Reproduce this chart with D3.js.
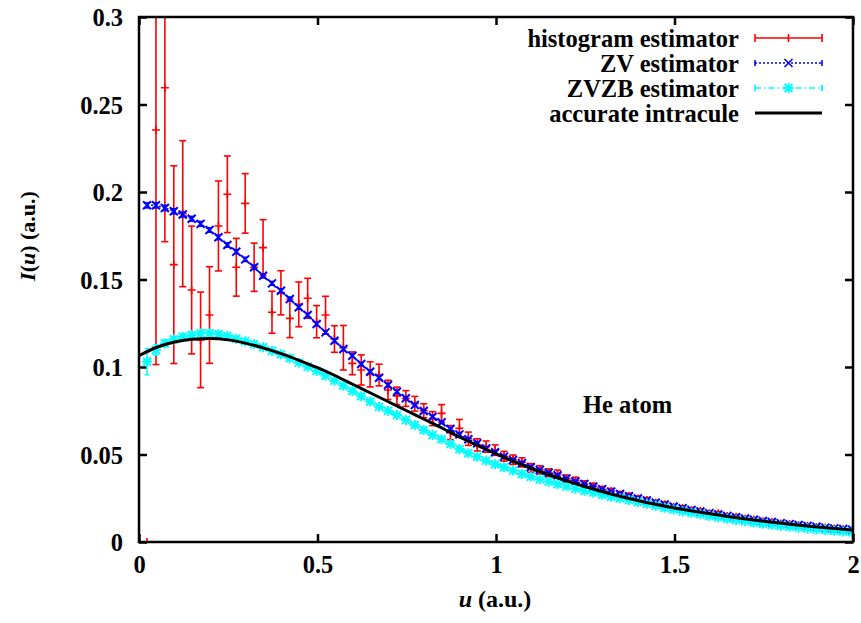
<!DOCTYPE html>
<html>
<head>
<meta charset="utf-8">
<script src="https://cdn.jsdelivr.net/npm/d3@7"></script>
<style>
  body { margin: 0; background: #fff; }
  text { font-family: "Liberation Serif", "Times New Roman", serif; font-weight: bold; }
</style>
</head>
<body>
<svg id="chart" width="861" height="623"></svg>
<script>
// bin centres (a.u.)
const uBins = [
  0.0225, 0.0475, 0.0725, 0.0975, 0.1225, 0.1475, 0.1725, 0.1975, 0.2225, 0.2475,
  0.2725, 0.2975, 0.3225, 0.3475, 0.3725, 0.3975, 0.4225, 0.4475, 0.4725, 0.4975,
  0.5225, 0.5475, 0.5725, 0.5975, 0.6225, 0.6475, 0.6725, 0.6975, 0.7225, 0.7475,
  0.7725, 0.7975, 0.8225, 0.8475, 0.8725, 0.8975, 0.9225, 0.9475, 0.9725, 0.9975,
  1.0225, 1.0475, 1.0725, 1.0975, 1.1225, 1.1475, 1.1725, 1.1975, 1.2225, 1.2475,
  1.2725, 1.2975, 1.3225, 1.3475, 1.3725, 1.3975, 1.4225, 1.4475, 1.4725, 1.4975,
  1.5225, 1.5475, 1.5725, 1.5975, 1.6225, 1.6475, 1.6725, 1.6975, 1.7225, 1.7475,
  1.7725, 1.7975, 1.8225, 1.8475, 1.8725, 1.8975, 1.9225, 1.9475, 1.9725, 1.9975
];

const histValues = [
  0.0, 0.2354, 0.2596, 0.1585, 0.1876, 0.1440, 0.1155, 0.1297, 0.1806, 0.1987,
  0.1570, 0.1935, 0.1570, 0.1682, 0.1313, 0.1424, 0.1278, 0.1358, 0.1393, 0.1259,
  0.1297, 0.1160, 0.1110, 0.1021, 0.0983, 0.0958, 0.0954, 0.0869, 0.0835, 0.0820,
  0.0790, 0.0750, 0.0705, 0.0735, 0.0625, 0.0650, 0.0590, 0.0555, 0.0545, 0.0525,
  0.0490, 0.0470, 0.0455, 0.0423, 0.0412, 0.0395, 0.0389, 0.0362, 0.0350, 0.0330,
  0.0318, 0.0300, 0.0290, 0.0272, 0.0263, 0.0248, 0.0240, 0.0224, 0.0216, 0.0200,
  0.0195, 0.0183, 0.0178, 0.0165, 0.0164, 0.0148, 0.0145, 0.0133, 0.0128, 0.0119,
  0.0116, 0.0106, 0.0103, 0.0096, 0.0093, 0.0086, 0.0082, 0.0077, 0.0075, 0.0069
];
const histErrors = [
  0.0, 0.134, 0.088, 0.0565, 0.0417, 0.0365, 0.0273, 0.0276, 0.0257, 0.0219,
  0.0165, 0.0170, 0.0138, 0.0160, 0.0120, 0.0126, 0.0110, 0.0128, 0.0114, 0.0092,
  0.0107, 0.0076, 0.0127, 0.0065, 0.0086, 0.0072, 0.0062, 0.0055, 0.0050, 0.0045,
  0.0042, 0.0040, 0.0040, 0.0050, 0.0040, 0.0050, 0.0038, 0.0035, 0.0032, 0.0030,
  0.0028, 0.0027, 0.0026, 0.0025, 0.0024, 0.0023, 0.0022, 0.0021, 0.0020, 0.0019,
  0.0018, 0.0017, 0.0016, 0.0016, 0.0015, 0.0015, 0.0014, 0.0014, 0.0013, 0.0013,
  0.0012, 0.0012, 0.0011, 0.0011, 0.0010, 0.0010, 0.0010, 0.0009, 0.0009, 0.0009,
  0.0008, 0.0008, 0.0008, 0.0007, 0.0007, 0.0007, 0.0007, 0.0006, 0.0006, 0.0006
];

const zvValues = [
  0.1924, 0.1924, 0.1909, 0.1890, 0.1871, 0.1847, 0.1818, 0.1783, 0.1741, 0.1697,
  0.1659, 0.1615, 0.1570, 0.1521, 0.1478, 0.1436, 0.1389, 0.1341, 0.1297, 0.1246,
  0.1198, 0.1150, 0.1103, 0.1064, 0.1017, 0.0973, 0.0939, 0.0897, 0.0859, 0.0821,
  0.0783, 0.0749, 0.0716, 0.0684, 0.0646, 0.0615, 0.0587, 0.0564, 0.0535, 0.0513,
  0.0488, 0.0469, 0.0450, 0.0427, 0.0411, 0.0396, 0.0381, 0.0362, 0.0346, 0.0331,
  0.0316, 0.0302, 0.0288, 0.0274, 0.0261, 0.0249, 0.0237, 0.0225, 0.0214, 0.0203,
  0.0193, 0.0183, 0.0174, 0.0165, 0.0157, 0.0149, 0.0141, 0.0134, 0.0127, 0.0120,
  0.0114, 0.0108, 0.0102, 0.0097, 0.0092, 0.0087, 0.0082, 0.0078, 0.0074, 0.0070
];
const zvErrors = [
  0.0015, 0.0015, 0.0015, 0.0015, 0.0014, 0.0014, 0.0014, 0.0013, 0.0013, 0.0013,
  0.0012, 0.0012, 0.0012, 0.0012, 0.0011, 0.0011, 0.0011, 0.0011, 0.0010, 0.0010,
  0.0010, 0.0010, 0.0010, 0.0009, 0.0009, 0.0009, 0.0009, 0.0009, 0.0008, 0.0008,
  0.0008, 0.0008, 0.0008, 0.0008, 0.0007, 0.0007, 0.0007, 0.0007, 0.0007, 0.0007,
  0.0006, 0.0006, 0.0006, 0.0006, 0.0006, 0.0006, 0.0006, 0.0006, 0.0005, 0.0005,
  0.0005, 0.0005, 0.0005, 0.0005, 0.0005, 0.0005, 0.0005, 0.0005, 0.0004, 0.0004,
  0.0004, 0.0004, 0.0004, 0.0004, 0.0004, 0.0004, 0.0004, 0.0004, 0.0004, 0.0004,
  0.0003, 0.0003, 0.0003, 0.0003, 0.0003, 0.0003, 0.0003, 0.0003, 0.0003, 0.0003
];

const zvzbValues = [
  0.1030, 0.1097, 0.1135, 0.1158, 0.1173, 0.1183, 0.1193, 0.1193, 0.1187, 0.1177,
  0.1162, 0.1147, 0.1130, 0.1113, 0.1093, 0.1073, 0.1050, 0.1025, 0.1002, 0.0977,
  0.0950, 0.0922, 0.0893, 0.0863, 0.0833, 0.0803, 0.0773, 0.0750, 0.0726, 0.0697,
  0.0669, 0.0640, 0.0611, 0.0587, 0.0560, 0.0531, 0.0507, 0.0487, 0.0465, 0.0444,
  0.0427, 0.0408, 0.0389, 0.0373, 0.0358, 0.0345, 0.0331, 0.0318, 0.0305, 0.0293,
  0.0282, 0.0270, 0.0259, 0.0250, 0.0240, 0.0229, 0.0218, 0.0207, 0.0196, 0.0186,
  0.0176, 0.0167, 0.0158, 0.0149, 0.0141, 0.0133, 0.0125, 0.0118, 0.0111, 0.0104,
  0.0098, 0.0092, 0.0087, 0.0082, 0.0077, 0.0072, 0.0068, 0.0064, 0.0060, 0.0057
];
const zvzbErrors = [
  0.0075, 0.0030, 0.0020, 0.0015, 0.0014, 0.0013, 0.0012, 0.0012, 0.0011, 0.0011,
  0.0010, 0.0010, 0.0010, 0.0009, 0.0009, 0.0009, 0.0009, 0.0008, 0.0008, 0.0008,
  0.0008, 0.0008, 0.0007, 0.0007, 0.0007, 0.0007, 0.0007, 0.0006, 0.0006, 0.0006,
  0.0006, 0.0006, 0.0006, 0.0005, 0.0005, 0.0005, 0.0005, 0.0005, 0.0005, 0.0005,
  0.0005, 0.0004, 0.0004, 0.0004, 0.0004, 0.0004, 0.0004, 0.0004, 0.0004, 0.0004,
  0.0004, 0.0004, 0.0003, 0.0003, 0.0003, 0.0003, 0.0003, 0.0003, 0.0003, 0.0003,
  0.0003, 0.0003, 0.0003, 0.0003, 0.0003, 0.0003, 0.0003, 0.0003, 0.0003, 0.0003,
  0.0003, 0.0003, 0.0003, 0.0003, 0.0003, 0.0003, 0.0003, 0.0003, 0.0003, 0.0003
];

// accurate intracule, sampled every 0.05 a.u.
const accurateU = [
  0.00, 0.05, 0.10, 0.15, 0.20, 0.25, 0.30, 0.35, 0.40, 0.45,
  0.50, 0.55, 0.60, 0.65, 0.70, 0.75, 0.80, 0.85, 0.90, 0.95,
  1.00, 1.05, 1.10, 1.15, 1.20, 1.25, 1.30, 1.35, 1.40, 1.45,
  1.50, 1.55, 1.60, 1.65, 1.70, 1.75, 1.80, 1.85, 1.90, 1.95, 2.00
];
const accurateI = [
  0.1065, 0.1113, 0.1143, 0.1159, 0.1163, 0.1155, 0.1135, 0.1108, 0.1075, 0.1037,
  0.0996, 0.0950, 0.0900, 0.0850, 0.0800, 0.0750, 0.0700, 0.0650, 0.0597, 0.0550,
  0.0503, 0.0460, 0.0420, 0.0383, 0.0348, 0.0316, 0.0287, 0.0260, 0.0236, 0.0214,
  0.0194, 0.0177, 0.0161, 0.0146, 0.0132, 0.0119, 0.0107, 0.0096, 0.0086, 0.0077, 0.0068
];

const xTicks = [0, 0.5, 1, 1.5, 2];
const yTicks = [0, 0.05, 0.1, 0.15, 0.2, 0.25, 0.3];
const xTickLabels = ["0", "0.5", "1", "1.5", "2"];
const yTickLabels = ["0", "0.05", "0.1", "0.15", "0.2", "0.25", "0.3"];
const legendLabels = ["histogram estimator", "ZV estimator", "ZVZB estimator", "accurate intracule"];

const svg = d3.select("#chart");
const plotLeft = 139, plotRight = 853, plotTop = 17, plotBottom = 542;
const fontSize = "24.5px";

const x = d3.scaleLinear().domain([0, 2]).range([plotLeft, plotRight]);
const y = d3.scaleLinear().domain([0, 0.3]).range([plotBottom, plotTop]);

svg.append("rect").attr("width", 861).attr("height", 623).attr("fill", "#fff");

svg.append("defs").append("clipPath").attr("id", "clip")
  .append("rect").attr("x", plotLeft).attr("y", plotTop)
  .attr("width", plotRight - plotLeft).attr("height", plotBottom - plotTop);

// axes: inward ticks on every side
const tickLen = 8;
const axisBottom = svg.append("g").attr("transform", `translate(0,${plotBottom})`)
  .call(d3.axisBottom(x).tickValues(xTicks).tickSizeInner(-tickLen).tickSizeOuter(0)
    .tickFormat((d, i) => xTickLabels[i]).tickPadding(14));
const axisTop = svg.append("g").attr("transform", `translate(0,${plotTop})`)
  .call(d3.axisTop(x).tickValues(xTicks).tickSizeInner(-tickLen).tickSizeOuter(0).tickFormat(""));
const axisLeft = svg.append("g").attr("transform", `translate(${plotLeft},0)`)
  .call(d3.axisLeft(y).tickValues(yTicks).tickSizeInner(-tickLen).tickSizeOuter(0)
    .tickFormat((d, i) => yTickLabels[i]).tickPadding(16));
const axisRight = svg.append("g").attr("transform", `translate(${plotRight},0)`)
  .call(d3.axisRight(y).tickValues(yTicks).tickSizeInner(-tickLen).tickSizeOuter(0).tickFormat(""));

[axisBottom, axisTop, axisLeft, axisRight].forEach(g => {
  g.select(".domain").remove();
  g.selectAll(".tick line").attr("stroke", "#000").attr("stroke-width", 2.5);
  g.selectAll(".tick text").attr("fill", "#000")
    .style("font-family", "'Liberation Serif', serif").style("font-weight", "bold").style("font-size", fontSize);
});
axisLeft.selectAll(".tick text").attr("dy", "0.35em");

const plot = svg.append("g").attr("clip-path", "url(#clip)");

function errorSeries(g, values, errors, color, cap, width) {
  const pts = uBins.map((u, i) => ({ u, v: values[i], e: errors[i] }));
  const grp = g.append("g").attr("stroke", color).attr("stroke-width", width).attr("fill", "none");
  pts.forEach(p => {
    const cx = x(p.u);
    grp.append("line").attr("x1", cx).attr("x2", cx).attr("y1", y(p.v - p.e)).attr("y2", y(p.v + p.e));
    grp.append("line").attr("x1", cx - cap).attr("x2", cx + cap).attr("y1", y(p.v - p.e)).attr("y2", y(p.v - p.e));
    grp.append("line").attr("x1", cx - cap).attr("x2", cx + cap).attr("y1", y(p.v + p.e)).attr("y2", y(p.v + p.e));
  });
  return pts;
}

// histogram estimator
const histPts = errorSeries(plot, histValues, histErrors, "#ff0000", 3.5, 1.6);
plot.append("g").attr("stroke", "#ff0000").attr("stroke-width", 1.6)
  .selectAll("path").data(histPts).join("path")
  .attr("d", p => `M${x(p.u) - 4},${y(p.v)}h8M${x(p.u)},${y(p.v) - 4}v8`);

// ZV estimator
const line = d3.line().x(p => x(p.u)).y(p => y(p.v));
const zvPts = uBins.map((u, i) => ({ u, v: zvValues[i] }));
plot.append("path").datum(zvPts).attr("d", line)
  .attr("fill", "none").attr("stroke", "#0000ff").attr("stroke-width", 1.5).attr("stroke-dasharray", "2,2");
errorSeries(plot, zvValues, zvErrors, "#0000ff", 2.5, 1.5);
plot.append("g").attr("stroke", "#0000ff").attr("stroke-width", 2)
  .selectAll("path").data(zvPts).join("path")
  .attr("d", p => `M${x(p.u) - 4},${y(p.v) - 4}l8,8M${x(p.u) - 4},${y(p.v) + 4}l8,-8`);

// ZVZB estimator
const zvzbPts = uBins.map((u, i) => ({ u, v: zvzbValues[i] }));
plot.append("path").datum(zvzbPts).attr("d", line)
  .attr("fill", "none").attr("stroke", "#00ffff").attr("stroke-width", 1.5).attr("stroke-dasharray", "6,3,1.5,3");
errorSeries(plot, zvzbValues, zvzbErrors, "#00ffff", 2.5, 1.5);
plot.append("g").attr("stroke", "#00ffff").attr("stroke-width", 2)
  .selectAll("path").data(zvzbPts).join("path")
  .attr("d", p => {
    const cx = x(p.u), cy = y(p.v);
    return `M${cx - 4},${cy - 4}l8,8M${cx - 4},${cy + 4}l8,-8M${cx - 5},${cy}h10M${cx},${cy - 5}v10`;
  });

// accurate intracule
const accPts = accurateU.map((u, i) => ({ u, v: accurateI[i] }));
plot.append("path").datum(accPts).attr("d", line.curve(d3.curveMonotoneX))
  .attr("fill", "none").attr("stroke", "#000").attr("stroke-width", 3);

// frame
svg.append("rect").attr("x", plotLeft).attr("y", plotTop)
  .attr("width", plotRight - plotLeft).attr("height", plotBottom - plotTop)
  .attr("fill", "none").attr("stroke", "#000").attr("stroke-width", 2.5);

// legend
const legend = svg.append("g");
const rowY = [38, 63, 88, 113];
const sx0 = 755, sx1 = 822, smid = (sx0 + sx1) / 2;
legendLabels.forEach((lab, i) => {
  legend.append("text").attr("x", 739).attr("y", rowY[i]).attr("dy", "0.35em")
    .attr("text-anchor", "end").style("font-size", fontSize).text(lab);
});
// red sample
legend.append("path").attr("stroke", "#ff0000").attr("stroke-width", 1.6).attr("fill", "none")
  .attr("d", `M${sx0},${rowY[0]}H${sx1}M${sx0},${rowY[0] - 4}v8M${sx1},${rowY[0] - 4}v8M${smid},${rowY[0] - 4}v8`);
// blue sample
legend.append("path").attr("stroke", "#0000ff").attr("stroke-width", 1.5).attr("fill", "none")
  .attr("stroke-dasharray", "2,2").attr("d", `M${sx0},${rowY[1]}H${sx1}`);
legend.append("path").attr("stroke", "#0000ff").attr("stroke-width", 1.6).attr("fill", "none")
  .attr("d", `M${sx0},${rowY[1] - 3}v6M${sx1},${rowY[1] - 3}v6M${smid - 4},${rowY[1] - 4}l8,8M${smid - 4},${rowY[1] + 4}l8,-8`);
// cyan sample
legend.append("path").attr("stroke", "#00ffff").attr("stroke-width", 1.5).attr("fill", "none")
  .attr("stroke-dasharray", "6,3,1.5,3").attr("d", `M${sx0},${rowY[2]}H${sx1}`);
legend.append("path").attr("stroke", "#00ffff").attr("stroke-width", 1.8).attr("fill", "none")
  .attr("d", `M${sx0},${rowY[2] - 3}v6M${sx1},${rowY[2] - 3}v6M${smid - 4},${rowY[2] - 4}l8,8M${smid - 4},${rowY[2] + 4}l8,-8M${smid - 5},${rowY[2]}h10M${smid},${rowY[2] - 5}v10`);
// black sample
legend.append("line").attr("x1", sx0).attr("x2", sx1).attr("y1", rowY[3]).attr("y2", rowY[3])
  .attr("stroke", "#000").attr("stroke-width", 3);

// annotation
svg.append("text").attr("x", 583).attr("y", 413).style("font-size", fontSize).text("He atom");

// axis titles
const xTitle = svg.append("text").attr("x", 495).attr("y", 607).attr("text-anchor", "middle").style("font-size", "24px");
xTitle.append("tspan").style("font-style", "italic").text("u");
xTitle.append("tspan").text(" (a.u.)");

const yTitle = svg.append("text").attr("transform", "translate(35,236) rotate(-90)")
  .attr("text-anchor", "middle").style("font-size", "22px");
yTitle.append("tspan").style("font-style", "italic").text("I");
yTitle.append("tspan").text("(");
yTitle.append("tspan").style("font-style", "italic").text("u");
yTitle.append("tspan").text(") (a.u.)");
</script>
</body>
</html>
